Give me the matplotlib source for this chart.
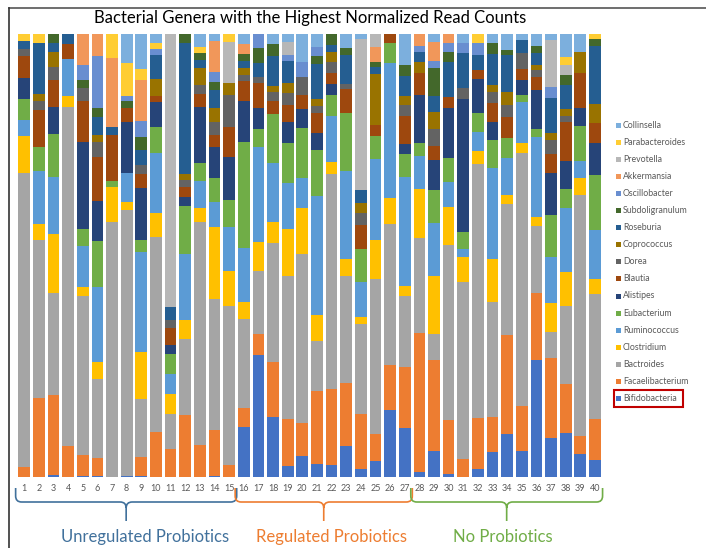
import numpy as np
import matplotlib
matplotlib.use("Agg")
import matplotlib.pyplot as plt
from matplotlib.path import Path
from matplotlib.patches import PathPatch, Rectangle

plt.rcParams["font.family"] = ["Lato", "DejaVu Sans"]

samples = [str(i) for i in range(1, 41)]

# stacking order, bottom -> top (percent of normalized reads)
genera = ["Bifidobacteria", "Facaelibacterium", "Bactroides", "Clostridium",
          "Ruminococcus", "Eubacterium", "Alistipes", "Blautia", "Dorea",
          "Coprococcus", "Roseburia", "Subdoligranulum", "Oscillobacter",
          "Akkermansia", "Prevotella", "Parabacteroides", "Collinsella"]

colors = ["#4472C4", "#ED7D31", "#A5A5A5", "#FFC000", "#5B9BD5", "#70AD47",
          "#264478", "#9E480E", "#636363", "#997300", "#255E91", "#43682B",
          "#698ED0", "#F1975A", "#B7B7B7", "#FFCD33", "#7CAFDD"]

bifidobacteria = [0, 0, 0.4, 0, 0.3, 0.3, 0, 0.3, 0.3, 0, 0, 0, 0, 0.2, 0,
                  11.4, 27.6, 13.6, 2.4, 4.7, 3.0, 2.8, 7.0, 1.9, 3.6, 15.1, 11.1,
                  1.1, 5.9, 0.6, 0, 1.7, 5.6, 9.8, 5.9, 26.5, 8.7, 9.9, 5.1, 3.9]
facaelibacterium = [2.3, 17.9, 18.0, 6.9, 4.6, 4.0, 0, 0, 4.2, 10.2, 6.4, 13.9, 7.2, 10.3, 2.6,
                    4.1, 4.6, 12.4, 10.8, 7.5, 16.4, 17.0, 14.3, 12.4, 6.2, 10.2, 13.6,
                    31.4, 20.5, 12.3, 4.1, 11.7, 7.9, 22.2, 10.1, 15.1, 18.1, 11.0, 4.1, 9.3]
bactroides = [66.4, 35.7, 23.0, 76.7, 36.0, 17.9, 57.6, 60.0, 13.0, 44.0, 7.7, 17.3, 50.5, 29.7, 36.1,
              20.2, 14.3, 26.7, 32.2, 38.2, 11.3, 48.6, 24.1, 20.3, 35.0, 31.8, 16.1,
              21.5, 5.9, 39.4, 39.9, 57.2, 26.0, 29.7, 57.2, 15.1, 6.0, 17.8, 54.4, 28.2]
clostridium = [8.3, 3.5, 13.3, 2.5, 2.0, 3.8, 7.9, 1.7, 10.8, 5.5, 4.7, 4.1, 3.2, 16.3, 7.8,
               3.8, 6.6, 4.7, 10.5, 10.4, 6.0, 2.6, 3.8, 1.5, 8.8, 5.9, 2.3,
               11.1, 13.1, 8.7, 5.6, 3.0, 9.8, 1.9, 2.1, 2.1, 6.4, 7.5, 3.9, 3.4]
ruminococcus = [3.6, 12.0, 13.0, 8.3, 9.2, 16.8, 0, 6.6, 22.6, 13.5, 4.5, 15.0, 6.0, 5.5, 10.1,
                12.3, 21.3, 13.3, 10.5, 6.8, 26.7, 10.5, 20.0, 7.9, 18.1, 30.5, 24.6,
                7.3, 12.0, 5.6, 1.9, 4.3, 20.6, 8.4, 9.4, 18.1, 10.5, 14.5, 3.8, 10.9]
eubacterium = [4.7, 5.3, 9.6, 0, 3.9, 10.5, 1.4, 0, 2.6, 5.9, 4.4, 10.8, 4.2, 5.5, 5.9,
               23.9, 4.1, 11.1, 8.9, 11.3, 10.5, 4.7, 13.1, 7.5, 5.3, 4.5, 5.1,
               2.9, 7.4, 5.5, 3.8, 4.1, 6.2, 4.6, 1.5, 1.9, 9.4, 4.3, 7.9, 12.4]
alistipes = [4.7, 0, 6.2, 0, 19.7, 9.0, 0, 11.5, 11.7, 5.6, 2.0, 2.0, 12.7, 6.9, 9.8,
             9.2, 4.8, 0, 4.9, 4.3, 3.8, 2.6, 0, 0, 0, 0, 2.3,
             10.9, 6.8, 11.3, 30.0, 7.7, 4.1, 0, 3.5, 8.7, 9.6, 6.4, 4.0, 7.3]
blautia = [5.0, 8.4, 6.0, 3.4, 9.2, 10.0, 10.3, 3.0, 3.2, 1.4, 3.9, 2.3, 2.9, 2.8, 6.8,
           4.6, 5.5, 2.9, 3.8, 3.2, 4.5, 2.3, 5.3, 5.3, 2.5, 2.1, 6.3,
           5.0, 3.2, 2.4, 0, 2.1, 4.3, 4.7, 2.5, 3.0, 4.2, 8.7, 7.9, 4.5]
dorea = [1.7, 2.1, 3.0, 0, 2.9, 3.4, 0, 0, 2.0, 0, 1.7, 1.5, 1.9, 2.9, 7.2,
         1.4, 1.5, 2.1, 2.6, 4.0, 1.7, 2.6, 1.2, 2.8, 0, 0, 2.5,
         0, 3.8, 0, 2.6, 0, 2.5, 2.6, 3.4, 1.5, 3.2, 1.5, 0, 0]
coprococcus = [0, 1.5, 3.4, 0, 0, 1.5, 0, 0, 0, 3.9, 0, 1.5, 4.0, 3.2, 2.8,
               1.6, 0, 1.3, 2.3, 0, 1.4, 2.3, 0, 2.1, 11.4, 0, 2.0,
               2.5, 3.8, 0, 0, 0, 1.5, 3.0, 0, 1.3, 1.5, 1.5, 4.9, 4.4]
roseburia = [1.7, 11.6, 2.0, 2.3, 0, 4.0, 1.9, 0, 3.4, 5.3, 3.0, 29.4, 1.7, 4.0, 0,
             1.5, 3.0, 6.9, 4.9, 0, 8.1, 1.5, 6.6, 3.0, 1.7, 0, 4.5,
             2.3, 3.6, 7.9, 7.7, 3.4, 7.0, 8.3, 3.0, 2.5, 7.9, 5.3, 0, 13.0]
subdoligranulum = [0, 0, 2.0, 0, 1.9, 2.0, 0, 1.7, 3.0, 0, 0, 2.1, 1.5, 1.9, 0,
                   1.5, 3.5, 2.6, 0, 0, 1.7, 2.5, 1.5, 0, 1.0, 0, 2.5,
                   0, 6.4, 2.3, 0, 0, 2.6, 1.3, 0, 1.7, 0, 2.3, 0, 1.5]
oscillobacter = [0, 0, 0, 0, 3.4, 11.8, 0, 1.2, 3.6, 1.3, 0, 0, 0, 2.3, 0,
                 0, 3.1, 0, 1.5, 3.4, 2.1, 0, 0, 0, 0, 0, 0,
                 1.3, 1.5, 2.0, 2.3, 2.6, 0, 0, 0, 0, 2.6, 0, 0, 0]
akkermansia = [0, 0, 0, 0, 7.0, 5.0, 15.4, 0, 9.3, 0, 0, 0, 0, 6.9, 0,
               2.3, 0, 0, 0, 0, 0, 0, 0, 0, 3.4, 0, 0,
               2.7, 4.5, 2.0, 0, 0, 0, 0, 0, 0, 0, 0, 0, 0]
prevotella = [0, 0, 0, 0, 0, 0, 0, 0, 0, 0, 61.6, 0, 0, 0, 9.3,
              0, 0, 0, 3.0, 0, 0, 0, 0, 34.0, 3.0, 0, 0,
              0, 0, 0, 0, 0, 0, 0, 0, 0, 10.5, 2.3, 0, 0]
parabacteroides = [1.6, 2.0, 0, 0, 0, 0, 5.5, 7.3, 2.5, 1.5, 0, 0, 1.4, 0, 1.7,
                   0, 0, 0, 0, 0, 0, 0, 0, 0, 0, 0, 0,
                   0, 0, 0, 0, 2.1, 0, 0, 0, 0, 0, 1.9, 0, 1.2]
collinsella = [0, 0, 0, 0, 0, 0, 0, 6.6, 7.8, 2.0, 0, 0, 3.0, 1.6, 0,
               2.3, 0, 2.3, 1.7, 6.3, 2.9, 0, 3.2, 1.2, 0, 0, 7.0,
               0, 1.7, 0, 2.1, 0, 2.0, 3.5, 1.4, 2.7, 1.4, 5.1, 4.0, 0]

series = [bifidobacteria, facaelibacterium, bactroides, clostridium, ruminococcus,
          eubacterium, alistipes, blautia, dorea, coprococcus, roseburia,
          subdoligranulum, oscillobacter, akkermansia, prevotella,
          parabacteroides, collinsella]

groups = ["Unregulated Probiotics", "Regulated Probiotics", "No Probiotics"]
group_ranges = [(1, 15), (16, 27), (28, 40)]
group_colors = ["#41719C", "#ED7D31", "#70AD47"]

# 100% stacked: each sample normalized to its total
vals = np.array(series, dtype=float)
vals = vals / vals.sum(axis=0) * 100

W, H = 706, 548
fig = plt.figure(figsize=(W / 100, H / 100), dpi=100)
ax = fig.add_axes([16.9 / W, 71 / H, 585.4 / W, 443 / H])

x = np.arange(1, 41)
bottom = np.zeros(40)
for name, col, v in zip(genera, colors, vals):
    ax.bar(x, v, bottom=bottom, width=0.8, color=col, linewidth=0, label=name)
    bottom += v

ax.set_xlim(0.5, 40.5)
ax.set_ylim(0, 100)
ax.set_xticks(x)
ax.set_xticklabels(samples, fontsize=6.5, color="#595959")
ax.tick_params(axis="x", length=0, pad=5)
ax.set_yticks([])
for s in ax.spines.values():
    s.set_visible(False)

# overlay in pixel coordinates for title, braces, legend, frame
ov = fig.add_axes([0, 0, 1, 1])
ov.set_xlim(0, W)
ov.set_ylim(H, 0)
ov.axis("off")

ov.plot([9, W], [8, 8], color="#555555", lw=1.2)
ov.plot([9, 9], [8, H], color="#333333", lw=1.2)

ov.text(310, 18, "Bacterial Genera with the Highest Normalized Read Counts",
        ha="center", va="center", fontsize=12, color="black")


def to_px(i):
    # category index -> pixel x
    x0, x1 = ax.get_xlim()
    return 16.9 + (i - x0) / (x1 - x0) * 585.4


def brace(xa, xb, color):
    tip = (xa + xb) / 2
    yt, yh, yb, r = 488, 502, 521, 6
    verts = [(xa, yt), (xa, yh - r), (xa, yh), (xa + r, yh),
             (tip - r, yh), (tip, yh), (tip, yh + r), (tip, yb),
             (tip, yh + r), (tip, yh), (tip + r, yh),
             (xb - r, yh), (xb, yh), (xb, yh - r), (xb, yt)]
    codes = [Path.MOVETO, Path.LINETO, Path.CURVE3, Path.CURVE3,
             Path.LINETO, Path.CURVE3, Path.CURVE3, Path.LINETO,
             Path.MOVETO, Path.CURVE3, Path.CURVE3,
             Path.LINETO, Path.CURVE3, Path.CURVE3, Path.LINETO]
    ov.add_patch(PathPatch(Path(verts, codes), fill=False, edgecolor=color, lw=1.2))
    return tip


label_x = [145, 331, 503]
for (a, b), name, col, lx in zip(group_ranges, groups, group_colors, label_x):
    xa = to_px(a - 0.45) - 2
    xb = to_px(b + 0.45) + 1
    brace(xa, xb, col)
    ov.text(lx, 537, name, ha="center", va="center", fontsize=12, color=col)

# legend, top entry = last series
ly0, dy = 125, 17.1
for k, (name, col) in enumerate(zip(genera[::-1], colors[::-1])):
    yy = ly0 + k * dy
    ov.add_patch(Rectangle((615.5, yy - 2.5), 5, 5, facecolor=col, edgecolor="none"))
    ov.text(623, yy, name, ha="left", va="center", fontsize=6.3, color="#595959")
ov.add_patch(Rectangle((613.5, ly0 + 16 * dy - 8.5), 69, 17, fill=False,
                       edgecolor="#C00000", lw=1.5))

fig.savefig("out.png", dpi=100)
